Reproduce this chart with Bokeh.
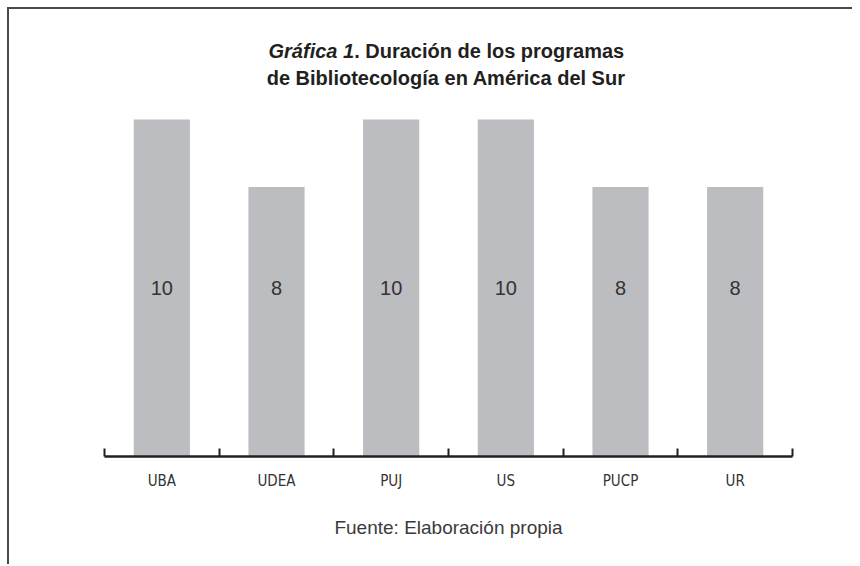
from bokeh.plotting import figure
from bokeh.models import Range1d, FixedTicker, ColumnDataSource
from bokeh.core.properties import value
from bokeh.embed import file_html
from bokeh.resources import INLINE
import numpy as np

# ---- data ----
categories = ["UBA", "UDEA", "PUJ", "US", "PUCP", "UR"]
durations = [10, 8, 10, 10, 8, 8]
title_italic = "Gráfica 1"
title_rest = ". Duración de los programas"
title_line2 = "de Bibliotecología en América del Sur"
source_note = "Fuente: Elaboración propia"

x_pos = np.arange(len(categories)) + 0.5
label_y = max(durations) / 2

src = ColumnDataSource(dict(x=x_pos, top=durations,
                            lab=[str(v) for v in durations],
                            ly=[label_y] * len(durations)))

W, H = 845, 557
p = figure(width=W, height=H, output_backend="svg", toolbar_location=None,
           x_range=Range1d(0, len(categories)), y_range=Range1d(0, 13.264),
           y_axis_location=None, min_border_left=95, min_border_right=62,
           min_border_top=0, min_border_bottom=110)
p.styles = {"border-top": "2px solid #4a4a4a", "border-left": "2px solid #4a4a4a",
            "margin": "7px 0 0 7px"}
p.grid.visible = False
p.outline_line_color = None
p.background_fill_color = "white"
p.border_fill_color = "white"

p.vbar(x="x", top="top", width=0.49, bottom=0, source=src,
       fill_color="#bcbdc1", line_color=None)

p.text(x="x", y="ly", text="lab", source=src, text_align="center",
       text_baseline="middle", text_font=value("Liberation Sans"),
       text_font_size="20px", text_color="#333333")

# title (two lines, first part italic)
p.text(x=[2.177], y=[12.02], text=[title_italic], text_align="right",
       text_baseline="alphabetic", text_font=value("Liberation Sans"),
       text_font_style="bold italic", text_font_size="20px", text_color="#231f20")
p.text(x=[2.177], y=[12.02], text=[title_rest], text_align="left",
       text_baseline="alphabetic", text_font=value("Liberation Sans"),
       text_font_style="bold", text_font_size="20px", text_color="#231f20")
p.text(x=[2.98], y=[11.22], text=[title_line2], text_align="center",
       text_baseline="alphabetic", text_font=value("Liberation Sans"),
       text_font_style="bold", text_font_size="20px", text_color="#231f20")

ax = p.xaxis[0]
ax.ticker = FixedTicker(ticks=list(x_pos), minor_ticks=list(range(len(categories) + 1)))
ax.major_label_overrides = {float(x): c for x, c in zip(x_pos, categories)}
ax.major_tick_line_color = None
ax.major_tick_in = 0
ax.major_tick_out = 0
ax.minor_tick_in = 8
ax.minor_tick_out = 0
ax.minor_tick_line_color = "#231f20"
ax.minor_tick_line_width = 2
ax.axis_line_color = "#231f20"
ax.axis_line_width = 2.5
ax.major_label_standoff = 15
ax.major_label_text_font = "DejaVu Sans Condensed"
ax.major_label_text_font_size = "15px"
ax.major_label_text_color = "#333333"
ax.axis_label = source_note
ax.axis_label_standoff = 24
ax.axis_label_text_font = "Liberation Sans"
ax.axis_label_text_font_style = "normal"
ax.axis_label_text_font_size = "19px"
ax.axis_label_text_color = "#3a3a3a"

open("out.html", "w").write(file_html(p, INLINE))
